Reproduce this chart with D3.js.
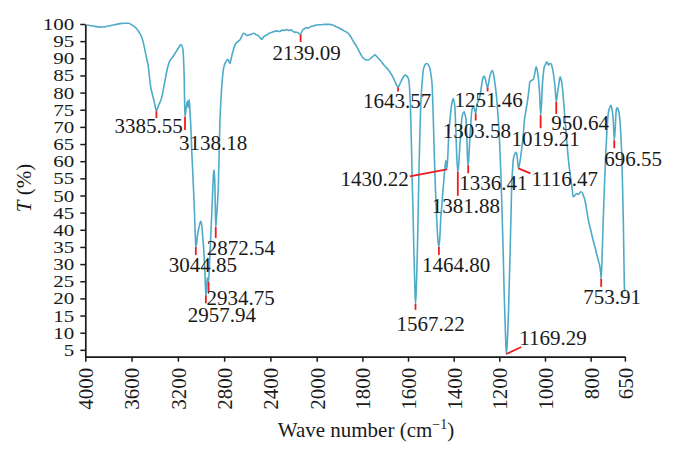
<!DOCTYPE html>
<html>
<head>
<meta charset="utf-8">
<script src="https://cdn.jsdelivr.net/npm/d3@7/dist/d3.min.js"></script>
<style>
  html, body { margin: 0; padding: 0; background: #fff; }
  svg { display: block; }
  text { font-family: "Liberation Serif", "DejaVu Serif", serif; fill: #1a1a1a; }
</style>
</head>
<body>
<svg id="chart" width="675" height="456"></svg>
<script>
// ---------- DATA ----------
const waveNumbers = [3985,3950,3916,3873,3830,3787,3745,3700,3660,3625,3605,3588,3570,3556,3535,3513,3498,3484,3470,3455,3445,3435,3420,3406,3395,3385.55,3375,3360,3340,3325,3311,3297,3283,3268,3253,3240,3225,3210,3195,3176,3165,3156,3150,3145,3141,3138.18,3132,3124,3116,3110,3102,3096,3088,3080,3072,3065,3058,3050,3044.85,3038,3030,3015,3003,2994,2985,2975,2967,2961,2957.94,2952,2946,2940,2934.75,2928,2920,2912,2904,2897,2890,2885,2880,2876,2872.54,2866,2858,2850,2843,2836,2828,2821,2814,2807,2795,2784,2772,2764,2756,2749,2742,2735,2720,2706,2685,2663,2645,2633,2620,2605,2590,2576,2560,2545,2525,2505,2490,2475,2462,2445,2432,2410,2385,2346,2320,2300,2280,2259,2240,2225,2202,2185,2170,2155,2145,2139.09,2132,2120,2105,2086,2070,2050,2030,2015,2000,
1980,1960,1942,1930,1920,1910,1898,1880,1862,1850,1838,1825,1810,1796,1785,1774,1760,1750,1745,1738,1730,1723,1705,1686,1670,1657,1650,1643.57,1636,1628,1620,1613,1605,1598,1594,1590,1587,1584,1581,1577,1574,1570,1567.22,1564,1561,1559,1555,1552,1548,1544,1538,1533,1525,1518,1510,1504,1499,1494,1490,1485,1480,1474,1469,1464.8,1460,1457,1452,1448,1443,1438,1434,1430.22,1426,1422,1417,1412,1406,1402,1398,1395,1391,1387,1381.88,1378,1375,1370,1365,1360,1354,1350,1346,1342,1339,1336.41,1333,1329,1325,1322,1318,1315,1310,1303.58,1299,1292,1285,1279,1273,1267,1260,1251.46,1244,1237,1231,1226,1220,1215,1210,1205,1200,1196,1192,1188,1183,1179,1175,1172,1169.29,1165,1161,1157,1153,1149,1146,1142,1139,1134,1128,1124,1120,1116.47,1112,1106,1101,1095,1090,1083,1076,1071,1066,1058,1051,1045,1039,1034,1028,1023,1019.21,1015,1012,1008,1003,997,992,988,985,980,974,970,966,961,956,950.64,946,941,937,934,929,924,918,912,906,900,895,890,883,876,870,861,855,850,845,839,832,825,818,810,800,789,781,774,766,759,756,753.91,750,745,740,734,729,723,717,711,706,701,696.55,692,689,686,682,679,675,672,668,664,660,657,654,652,650];
const transmittance = [99.7,99.5,99.3,99.1,99.2,99.5,99.8,100.1,100.2,100.2,99.9,99.5,99.1,98.6,97.6,96.2,94.5,92.3,90,87.5,84.5,81.7,79.5,77.6,75.8,74.6,75.5,76.8,78.5,81,83.5,86,88,89.3,90,90.6,91.4,92.2,93,93.9,93.6,92.5,89,84,76,72.9,74.5,76.5,77.5,75.6,78,75,70,63,57.4,52,46.6,39,35,36,38.5,41,42.5,41.5,38,33.5,28,23,20.9,22.5,26,25.5,24.8,29,35,41,47,53,57,57.4,53,46,40.8,43.5,47.5,53,63,72,77.5,81.7,84.5,86.6,88.3,89,89.6,89.5,88.8,88.5,89.5,90.5,92.5,93.9,94.8,95.4,96.6,97.3,97.2,96.6,96.8,96.9,97.1,97.3,96.9,96.6,96.1,95.5,96.1,96.6,96.8,97.3,97.6,98,97.8,98.2,98.1,98.4,98.1,98.3,97.8,97.6,97.6,97.3,97,96.8,97.5,98.3,98.6,99,98.8,99.3,99.4,99.6,99.7,
99.8,99.9,99.9,99.7,99.4,99.1,98.7,98,97.3,96.2,94.8,93.4,91.5,90,89.6,89.5,90.2,90.8,91,90.6,90,89.5,88,86.6,85,83.2,82.2,81.5,82.5,83.6,84.6,85.1,84.8,84,82,77,70,62,52.5,42,33,23,18.4,22,29,34,47,57.4,68,76.8,83,86.6,88.2,88.5,88,87,85,81.7,74,62.2,52,42.8,37,35,38.5,42.8,47,50.6,54.5,58.3,60.2,57.6,61,67,71.5,74.9,77.5,78.3,77.3,75.9,70,62.2,56.9,59,62.2,67.5,72,73.8,74.4,73.5,72,66,60.3,58.8,62,67,71,73.9,75.5,75.9,75.3,73.9,76.3,77.5,78.8,81.5,84.1,84.8,83.5,81.5,84,85.8,86.4,85.5,83,80.5,77,72.5,67,61,54,45,33,22,13.6,7.5,3.8,7.5,13.6,23,33,44,52.5,57.5,60.3,61.8,62.6,62.3,60,57.9,59,61.5,64.2,68,72,75,77.8,80.5,83.2,83.6,83.8,85.5,87.5,86.5,83.6,79,73.4,77,81.7,85,87.5,88.3,89,88.6,88,88.4,88.5,87.8,86.6,84.5,81.7,77.3,79.5,81.7,83.5,84.6,83.8,81.7,77,72,67,62.2,59,56.4,53,49.6,50,50.6,50.3,50.5,51,51,50,48.6,46,42.8,40,36.9,35,33,31,29,27.5,25.7,32,42.8,52,62.2,68.5,73.9,75.5,76.3,75,72,66.1,70,74,75.4,75.6,75,73.8,72,68,62.2,52,42.8,30,23,22];

const xTickValues = [4000,3600,3200,2800,2400,2000,1800,1600,1400,1200,1000,800,650];
const yTickValues = [5,10,15,20,25,30,35,40,45,50,55,60,65,70,75,80,85,90,95,100];

const peakWaves = [3385.55,3138.18,2139.09,3044.85,2872.54,2934.75,2957.94,1643.57,1251.46,1303.58,1019.21,950.64,696.55,1430.22,1381.88,1336.41,1116.47,1464.80,1567.22,1169.29,753.91];
const peakT     = [74.6,72.9,96.8,35,40.8,24.8,20.9,81.5,81.5,73.9,73.4,77.3,66.1,57.6,56.9,58.8,57.9,35,18.4,3.8,25.7];
const peakLabels = ["3385.55","3138.18","2139.09","3044.85","2872.54","2934.75","2957.94","1643.57","1251.46","1303.58","1019.21","950.64","696.55","1430.22","1381.88","1336.41","1116.47","1464.80","1567.22","1169.29","753.91"];

// ---------- LAYOUT (label/marker offsets in px, relative to peak point) ----------
const labelLayout = [
  {mdx:0, mdy:7, ldx:-42, ldy:22, anchor:"start"},
  {mdx:0, mdy:13, ldx:-6, ldy:33, anchor:"start"},
  {mdx:0, mdy:7, ldx:-28, ldy:25, anchor:"start"},
  {mdx:0, mdy:8, ldx:-27, ldy:25, anchor:"start"},
  {mdx:0, mdy:11, ldx:-9, ldy:28, anchor:"start"},
  {mdx:0, mdy:10, ldx:-2, ldy:23, anchor:"start"},
  {mdx:0, mdy:8, ldx:-18, ldy:27, anchor:"start"},
  {mdx:0, mdy:4, ldx:-35, ldy:21, anchor:"start"},
  {mdx:0, mdy:4, ldx:-33, ldy:20, anchor:"start"},
  {mdx:0, mdy:7, ldx:-33, ldy:24, anchor:"start"},
  {mdx:0, mdy:13, ldx:-29, ldy:31, anchor:"start"},
  {mdx:0, mdy:12, ldx:-5, ldy:28, anchor:"start"},
  {mdx:0, mdy:8, ldx:-10, ldy:26, anchor:"start"},
  {mdx:-37, mdy:7, ldx:-38, ldy:17, anchor:"end"},
  {mdx:0, mdy:24, ldx:-26, ldy:41, anchor:"start"},
  {mdx:0, mdy:8, ldx:-9, ldy:25, anchor:"start"},
  {mdx:12, mdy:5, ldx:13, ldy:18, anchor:"start"},
  {mdx:0, mdy:8, ldx:-17, ldy:25, anchor:"start"},
  {mdx:0, mdy:6, ldx:-19, ldy:27, anchor:"start"},
  {mdx:15, mdy:-7, ldx:13, ldy:-9, anchor:"start"},
  {mdx:0, mdy:8, ldx:-18, ldy:25, anchor:"start"}
];

// ---------- CHART ----------
const svg = d3.select("#chart");
svg.append("rect").attr("width", 675).attr("height", 456).attr("fill", "#fff");

const x = d3.scaleLinear().domain([4000, 2000, 650]).range([85.3, 316.7, 624.9]);
const y = d3.scaleLinear().domain([3, 100]).range([356.7, 24]);

const axisColor = "#1a1a1a";

// spectrum line
const pts = waveNumbers.map((w, i) => [w, transmittance[i]]);
const line = d3.line().x(d => x(d[0])).y(d => y(d[1])).curve(d3.curveMonotoneX);
svg.append("path")
  .datum(pts)
  .attr("d", line)
  .attr("fill", "none")
  .attr("stroke", "#4eabc8")
  .attr("stroke-width", 1.6)
  .attr("stroke-linejoin", "round");

// Y axis
const gy = svg.append("g").attr("transform", `translate(${x(4000)},0)`)
  .call(d3.axisLeft(y).tickValues(yTickValues).tickSize(5).tickSizeOuter(0).tickPadding(6));
gy.selectAll("text")
  .attr("font-size", 21)
  .attr("transform", "scale(1,0.82)");

// X axis
const gx = svg.append("g").attr("transform", `translate(0,${y(3)})`)
  .call(d3.axisBottom(x).tickValues(xTickValues).tickFormat(d3.format("d")).tickSize(5).tickSizeOuter(0));
gx.selectAll("text")
  .attr("font-size", 21)
  .attr("text-anchor", "end")
  .attr("transform", "rotate(-90)")
  .attr("x", -11)
  .attr("y", 0)
  .attr("dy", "0.35em");

[gx, gy].forEach(g => {
  g.selectAll(".domain").attr("stroke", axisColor).attr("stroke-width", 1.7);
  g.selectAll(".tick line").attr("stroke", axisColor).attr("stroke-width", 1.5);
  g.selectAll("text").style("font-family", '"Liberation Serif", serif').attr("fill", "#1a1a1a");
});

// Annotations
const ann = svg.append("g");
peakWaves.forEach((w, i) => {
  const L = labelLayout[i];
  const px = x(w), py = y(peakT[i]);
  ann.append("line")
    .attr("x1", px).attr("y1", py)
    .attr("x2", px + L.mdx).attr("y2", py + L.mdy)
    .attr("stroke", "#ee1c1c").attr("stroke-width", 1.8);
  ann.append("text")
    .attr("x", px + L.ldx).attr("y", py + L.ldy)
    .attr("text-anchor", L.anchor)
    .attr("font-size", 21)
    .text(peakLabels[i]);
});

// Axis titles
svg.append("text")
  .attr("transform", "translate(31,188) rotate(-90)")
  .attr("text-anchor", "middle")
  .attr("font-size", 21)
  .call(t => {
    t.append("tspan").attr("font-style", "italic").text("T");
    t.append("tspan").text(" (%)");
  });

svg.append("text")
  .attr("x", 366).attr("y", 437)
  .attr("text-anchor", "middle")
  .attr("font-size", 21)
  .call(t => {
    t.append("tspan").text("Wave number (cm");
    t.append("tspan").attr("font-size", 14).attr("dy", -8).text("\u22121");
    t.append("tspan").attr("dy", 8).text(")");
  });
</script>
</body>
</html>
